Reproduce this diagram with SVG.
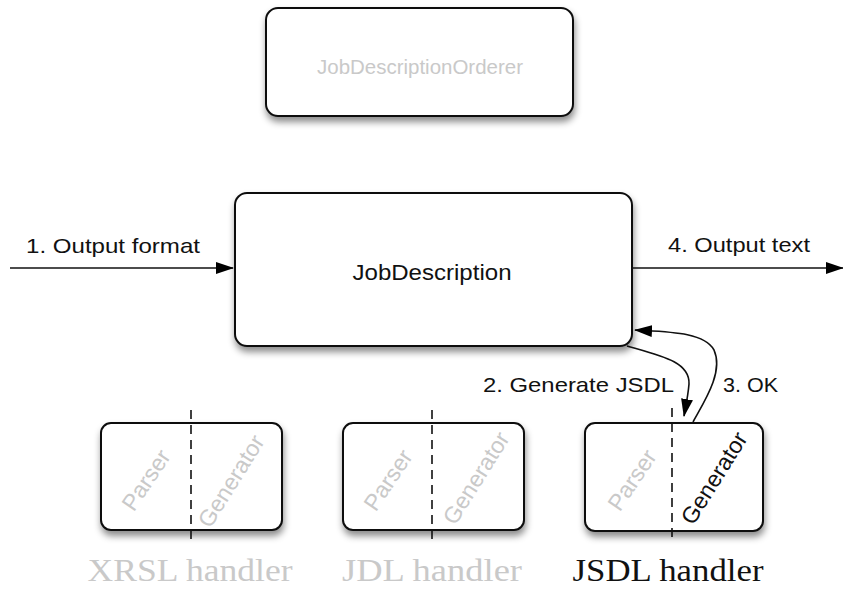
<svg xmlns="http://www.w3.org/2000/svg" width="843" height="590" viewBox="0 0 843 590">
<defs>
<filter id="sh" x="-20%" y="-20%" width="140%" height="150%">
<feDropShadow dx="1" dy="5" stdDeviation="3.5" flood-color="#000" flood-opacity="0.45"/>
</filter>
<marker id="ah" markerWidth="18" markerHeight="12" refX="17" refY="6" orient="auto" markerUnits="userSpaceOnUse">
<path d="M0,0 L18,6 L0,12 z" fill="#000"/>
</marker>
<style>
.box{fill:#fff;stroke:#111;stroke-width:2}
.sans{font-family:"Liberation Sans",Arial,sans-serif}
.serif{font-family:"Liberation Serif","Times New Roman",serif}
.lbl{font-size:21px;fill:#111}
.gray{fill:#c9c9c9}
.rot{font-size:23px;text-anchor:middle;dominant-baseline:central}
.dash{stroke:#111;stroke-width:1.6;stroke-dasharray:9 6;fill:none}
.conn{stroke:#111;stroke-width:1.6;fill:none}
.hl{font-size:31px;text-anchor:middle}
</style>
</defs>

<g id="orderer">
<rect class="box" x="266" y="8" width="307" height="108" rx="12" filter="url(#sh)"/>
<text class="sans gray" x="420" y="74" font-size="20" text-anchor="middle" textLength="206" lengthAdjust="spacingAndGlyphs">JobDescriptionOrderer</text>
</g>

<g id="jobdescription">
<rect class="box" x="235" y="193" width="397" height="153" rx="12" filter="url(#sh)"/>
<text class="sans" x="432" y="280" font-size="22" fill="#111" text-anchor="middle" textLength="159" lengthAdjust="spacingAndGlyphs">JobDescription</text>
</g>

<g id="xrsl">
<rect class="box" x="101" y="423" width="181" height="107" rx="10" filter="url(#sh)"/>
<line class="dash" x1="191" y1="410" x2="191" y2="543"/>
<text class="sans rot gray" x="146" y="480" transform="rotate(-56 146 480)">Parser</text>
<text class="sans rot gray" x="231" y="481" transform="rotate(-58 231 481)">Generator</text>
<text class="serif hl gray" x="190" y="581" textLength="205" lengthAdjust="spacingAndGlyphs">XRSL handler</text>
</g>

<g id="jdl">
<rect class="box" x="343" y="423" width="181" height="107" rx="10" filter="url(#sh)"/>
<line class="dash" x1="432" y1="410" x2="432" y2="543"/>
<text class="sans rot gray" x="388" y="480" transform="rotate(-56 388 480)">Parser</text>
<text class="sans rot gray" x="476" y="478" transform="rotate(-58 476 478)">Generator</text>
<text class="serif hl gray" x="432" y="581" textLength="180" lengthAdjust="spacingAndGlyphs">JDL handler</text>
</g>

<g id="jsdl">
<rect class="box" x="585" y="423" width="178" height="108" rx="10" filter="url(#sh)"/>
<line class="dash" x1="672" y1="408" x2="672" y2="543"/>
<text class="sans rot gray" x="632" y="480" transform="rotate(-56 632 480)">Parser</text>
<text class="sans rot" fill="#111" x="714" y="478" transform="rotate(-58 714 478)">Generator</text>
<text class="serif hl" fill="#111" x="668" y="581" textLength="191" lengthAdjust="spacingAndGlyphs">JSDL handler</text>
</g>

<g id="connectors">
<line class="conn" x1="10" y1="268" x2="233" y2="268" marker-end="url(#ah)"/>
<text class="sans lbl" x="26" y="253" textLength="174" lengthAdjust="spacingAndGlyphs">1. Output format</text>
<line class="conn" x1="632" y1="268" x2="843" y2="268" marker-end="url(#ah)"/>
<text class="sans lbl" x="668" y="252" textLength="142" lengthAdjust="spacingAndGlyphs">4. Output text</text>
<path class="conn" d="M627 346 C662 356 690 362 689 384 C688 396 686 405 684 416" marker-end="url(#ah)"/>
<text class="sans lbl" x="483" y="392" textLength="191" lengthAdjust="spacingAndGlyphs">2. Generate JSDL</text>
<path class="conn" d="M693 422 C704 402 724 372 714 350 C704 332 668 332 635 330" marker-end="url(#ah)"/>
<text class="sans lbl" x="723" y="392" textLength="55" lengthAdjust="spacingAndGlyphs">3. OK</text>
</g>
</svg>
